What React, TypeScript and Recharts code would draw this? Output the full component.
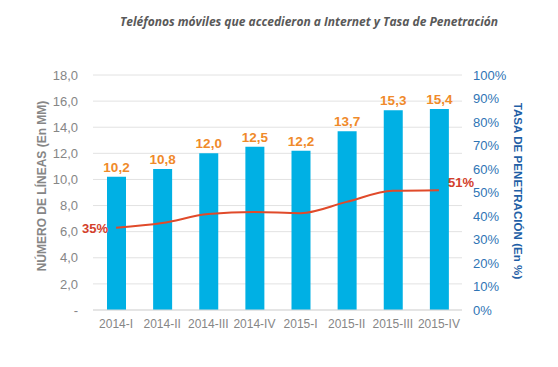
import {
  Bar,
  CartesianGrid,
  ComposedChart,
  Label,
  LabelList,
  Line,
  XAxis,
  YAxis,
} from "recharts"

const BAR = "#00b0e4"
const LINE = "#e04a2a"
const ORANGE = "#f08a2a"
const RED = "#d3402b"
const GRAY = "#868686"
const BLUE = "#2f75b5"
const BLUE_DARK = "#1f5fa6"
const FONT = "'Liberation Sans', Arial, sans-serif"

const quarters = ["2014-I", "2014-II", "2014-III", "2014-IV", "2015-I", "2015-II", "2015-III", "2015-IV"]
const lineas = [10.2, 10.8, 12.0, 12.5, 12.2, 13.7, 15.3, 15.4]
const tasa = [35, 37, 40.8, 41.7, 41.2, 46, 50.7, 51]
const leftTicks = [0, 2, 4, 6, 8, 10, 12, 14, 16, 18]
const rightTicks = [0, 10, 20, 30, 40, 50, 60, 70, 80, 90, 100]

const data = quarters.map((q, i) => ({ q, lineas: lineas[i], tasa: tasa[i] }))

const fmtNum = (v: number) => (v === 0 ? "-" : v.toFixed(1).replace(".", ","))

// solo el primer y el último punto llevan etiqueta
const TasaLabel = (props: any) => {
  const { x, y, value, index } = props
  if (index !== 0 && index !== tasa.length - 1) return null
  const first = index === 0
  return (
    <text
      x={first ? x - 8 : x + 9}
      y={first ? y + 2 : y - 7}
      textAnchor={first ? "end" : "start"}
      dominantBaseline="middle"
      fill={RED}
      fontSize={13}
      fontWeight="bold"
      fontFamily={FONT}
    >
      {Math.round(value)}%
    </text>
  )
}

export default function App() {
  return (
    <div style={{ position: "absolute", left: 0, top: 0, width: 558, height: 367, background: "#fff" }}>
      <div
        style={{
          position: "absolute",
          left: 0,
          width: 558,
          top: 13,
          textAlign: "center",
          paddingLeft: 60,
          boxSizing: "border-box",
          fontFamily: "'Open Sans', sans-serif",
          fontStyle: "italic",
          fontWeight: "bold",
          fontSize: 12,
          color: "#595959",
        }}
      >
        Teléfonos móviles que accedieron a Internet y Tasa de Penetración
      </div>
      <ComposedChart
        width={558}
        height={367}
        data={data}
        margin={{ top: 75, right: 0, bottom: 0, left: 0 }}
        barCategoryGap={0}
      >
        <CartesianGrid vertical={false} stroke="#e2e2e2" yAxisId="left" />
        <XAxis
          dataKey="q"
          axisLine={{ stroke: "#d9d9d9" }}
          tickLine={false}
          tickSize={0}
          tickMargin={9}
          height={57}
          interval={0}
          tick={{ fill: GRAY, fontSize: 12, fontFamily: FONT }}
        />
        <YAxis
          yAxisId="left"
          domain={[0, 18]}
          ticks={leftTicks}
          width={93}
          axisLine={false}
          tickLine={false}
          tickSize={0}
          tickMargin={15}
          tickFormatter={fmtNum}
          tick={{ fill: GRAY, fontSize: 13, fontFamily: FONT }}
        >
          <Label
            content={() => (
              <text
                x={43}
                y={186}
                transform="rotate(-90 43 186)"
                textAnchor="middle"
                dominantBaseline="middle"
                fill={GRAY}
                fontSize={12}
                fontWeight="bold"
                fontFamily={FONT}
              >
                NÚMERO DE LÍNEAS (En MM)
              </text>
            )}
          />
        </YAxis>
        <YAxis
          yAxisId="right"
          orientation="right"
          domain={[0, 100]}
          ticks={rightTicks}
          width={96}
          axisLine={false}
          tickLine={false}
          tickSize={0}
          tickMargin={11}
          tickFormatter={(v: number) => `${v}%`}
          tick={{ fill: BLUE, fontSize: 13, fontFamily: FONT }}
        >
          <Label
            content={() => (
              <text
                x={517}
                y={191}
                transform="rotate(90 517 191)"
                textAnchor="middle"
                dominantBaseline="middle"
                fill={BLUE_DARK}
                fontSize={11.6}
                fontWeight="bold"
                fontFamily={FONT}
              >
                TASA DE PENETRACIÓN (En %)
              </text>
            )}
          />
        </YAxis>
        <Bar yAxisId="left" dataKey="lineas" fill={BAR} barSize={19} isAnimationActive={false}>
          <LabelList
            dataKey="lineas"
            position="top"
            offset={5}
            formatter={(v: any) => fmtNum(Number(v))}
            fill={ORANGE}
            fontSize={13.5}
            fontWeight="bold"
            fontFamily={FONT}
          />
        </Bar>
        <Line
          yAxisId="right"
          dataKey="tasa"
          type="monotone"
          stroke={LINE}
          strokeWidth={2}
          dot={false}
          isAnimationActive={false}
        >
          <LabelList dataKey="tasa" content={TasaLabel} />
        </Line>
      </ComposedChart>
    </div>
  )
}
